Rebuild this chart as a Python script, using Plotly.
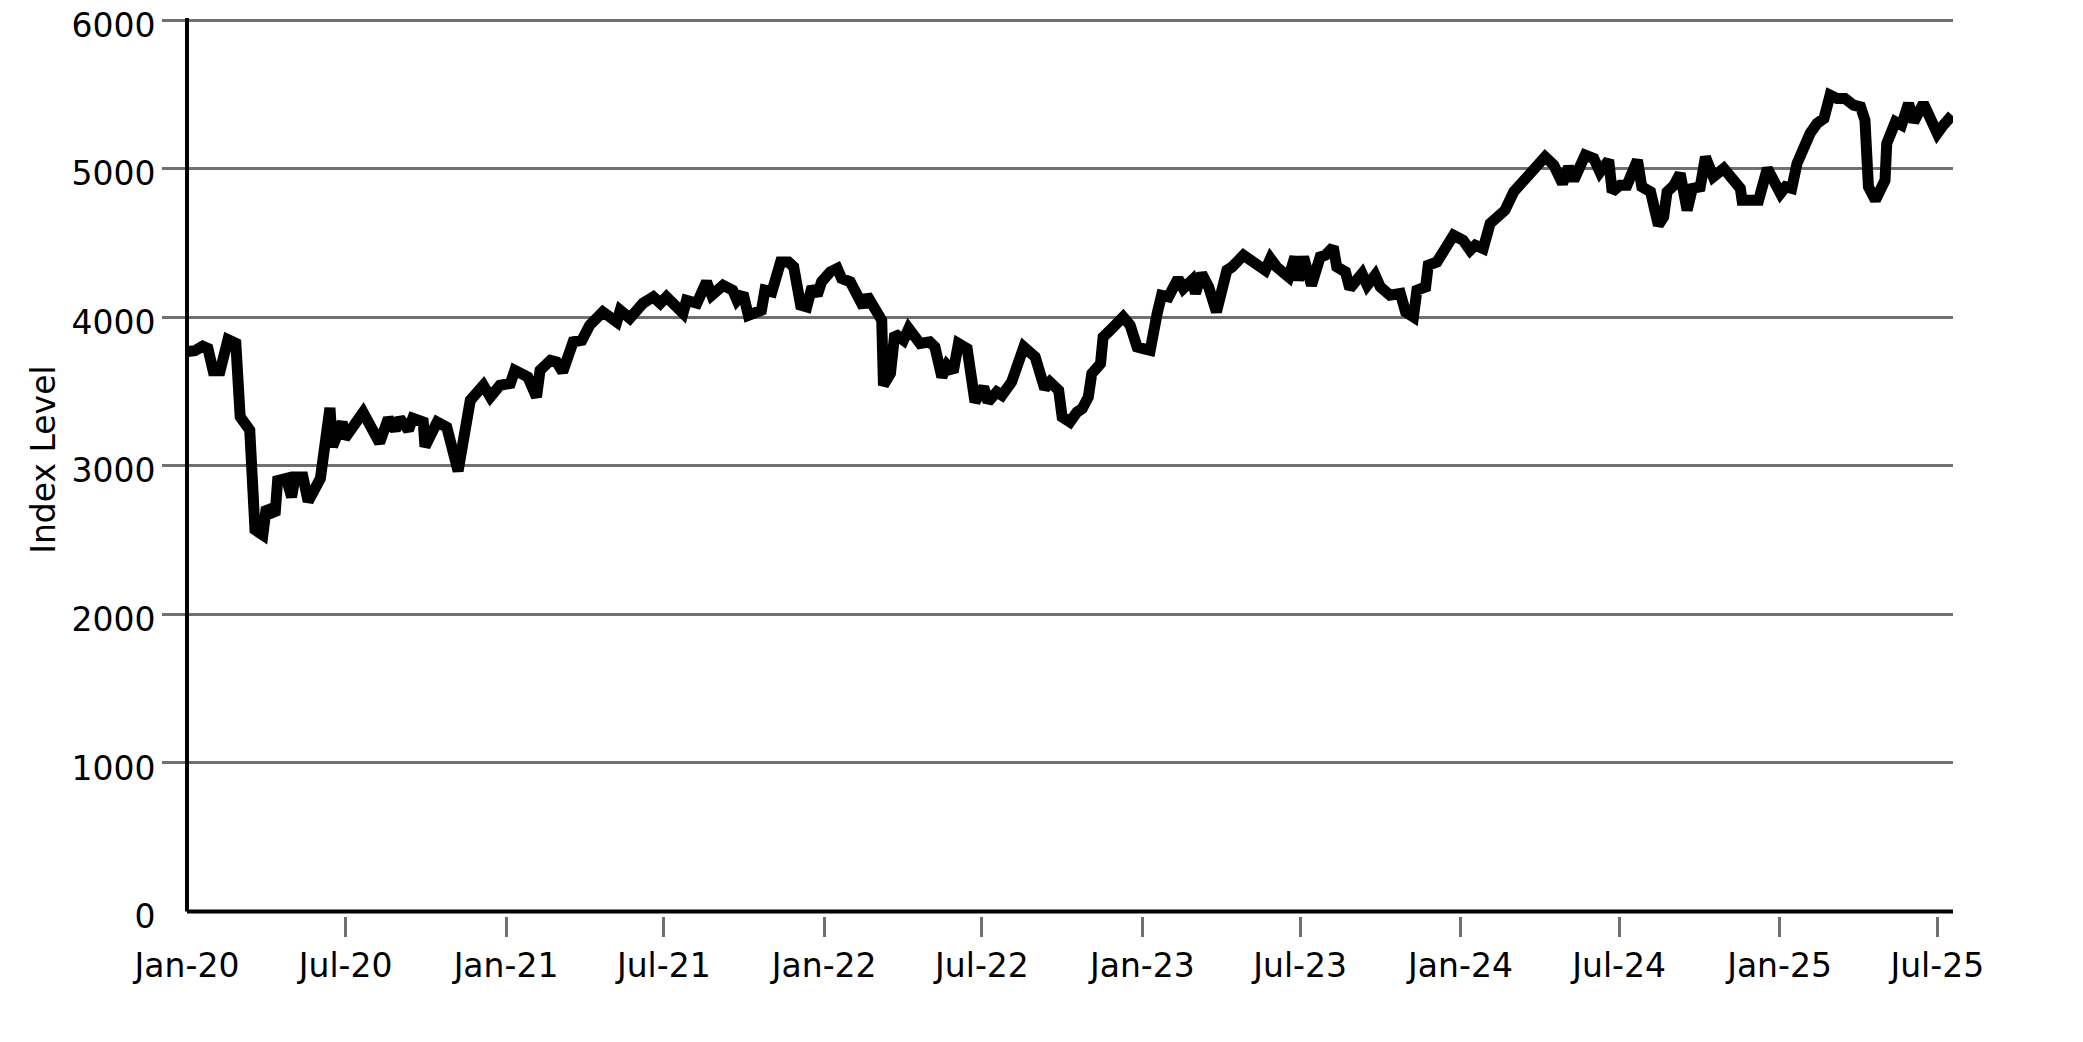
import plotly.graph_objects as go

# ---- data ----
dates = [
    "2020-01-02", "2020-01-10", "2020-01-19", "2020-01-25", "2020-01-31", "2020-02-08", "2020-02-17", "2020-02-26",
    "2020-03-02", "2020-03-13", "2020-03-19", "2020-03-28", "2020-04-01", "2020-04-11", "2020-04-14", "2020-04-24",
    "2020-04-30", "2020-05-04", "2020-05-13", "2020-05-19", "2020-06-02", "2020-06-13", "2020-06-16", "2020-06-27",
    "2020-06-30", "2020-07-21", "2020-08-09", "2020-08-19", "2020-08-27", "2020-09-01", "2020-09-11", "2020-09-16",
    "2020-09-28", "2020-09-30", "2020-10-14", "2020-10-25", "2020-11-07", "2020-11-13", "2020-11-21", "2020-12-06",
    "2020-12-14", "2020-12-25", "2021-01-06", "2021-01-11", "2021-01-26", "2021-02-05", "2021-02-09", "2021-02-21",
    "2021-02-28", "2021-03-07", "2021-03-19", "2021-03-29", "2021-04-07", "2021-04-22", "2021-05-08", "2021-05-12",
    "2021-05-23", "2021-06-07", "2021-06-19", "2021-06-27", "2021-07-04", "2021-07-23", "2021-07-27", "2021-08-08",
    "2021-08-19", "2021-08-25", "2021-09-07", "2021-09-18", "2021-09-23", "2021-09-30", "2021-10-06", "2021-10-21",
    "2021-10-25", "2021-11-02", "2021-11-12", "2021-11-21", "2021-11-27", "2021-12-05", "2021-12-12", "2021-12-18",
    "2021-12-24", "2021-12-29", "2022-01-08", "2022-01-16", "2022-01-21", "2022-01-31", "2022-02-09", "2022-02-15",
    "2022-02-19", "2022-02-28", "2022-03-08", "2022-03-10", "2022-03-18", "2022-03-23", "2022-04-02", "2022-04-08",
    "2022-04-21", "2022-05-02", "2022-05-08", "2022-05-16", "2022-05-22", "2022-05-29", "2022-06-04", "2022-06-14",
    "2022-06-23", "2022-07-03", "2022-07-08", "2022-07-18", "2022-07-24", "2022-08-04", "2022-08-10", "2022-08-18",
    "2022-08-31", "2022-09-08", "2022-09-11", "2022-09-17", "2022-09-27", "2022-10-01", "2022-10-10", "2022-10-18",
    "2022-10-24", "2022-10-31", "2022-11-04", "2022-11-14", "2022-11-17", "2022-11-25", "2022-12-10", "2022-12-18",
    "2022-12-26", "2023-01-02", "2023-01-10", "2023-01-18", "2023-01-23", "2023-01-31", "2023-02-11", "2023-02-17",
    "2023-02-27", "2023-03-03", "2023-03-10", "2023-03-18", "2023-03-27", "2023-04-08", "2023-04-14", "2023-04-27",
    "2023-05-12", "2023-05-22", "2023-05-28", "2023-06-04", "2023-06-18", "2023-06-25", "2023-06-29", "2023-07-05",
    "2023-07-14", "2023-07-24", "2023-07-30", "2023-08-08", "2023-08-12", "2023-08-22", "2023-08-27", "2023-09-10",
    "2023-09-16", "2023-09-25", "2023-10-01", "2023-10-12", "2023-10-24", "2023-10-30", "2023-11-08", "2023-11-12",
    "2023-11-22", "2023-11-25", "2023-12-05", "2023-12-16", "2023-12-24", "2024-01-04", "2024-01-12", "2024-01-18",
    "2024-01-27", "2024-02-04", "2024-02-14", "2024-02-21", "2024-03-02", "2024-03-10", "2024-03-21", "2024-03-29",
    "2024-04-07", "2024-04-17", "2024-04-27", "2024-05-04", "2024-05-10", "2024-05-23", "2024-06-02", "2024-06-09",
    "2024-06-19", "2024-06-23", "2024-07-02", "2024-07-10", "2024-07-22", "2024-07-27", "2024-08-06", "2024-08-15",
    "2024-08-21", "2024-08-25", "2024-09-02", "2024-09-09", "2024-09-17", "2024-09-23", "2024-10-02", "2024-10-08",
    "2024-10-17", "2024-10-29", "2024-11-07", "2024-11-17", "2024-11-19", "2024-11-28", "2024-12-08", "2024-12-18",
    "2024-12-25", "2025-01-02", "2025-01-08", "2025-01-15", "2025-01-21", "2025-01-29", "2025-02-05", "2025-02-13",
    "2025-02-21", "2025-02-28", "2025-03-08", "2025-03-17", "2025-03-27", "2025-04-04", "2025-04-09", "2025-04-13",
    "2025-04-21", "2025-05-02", "2025-05-04", "2025-05-14", "2025-05-21", "2025-05-29", "2025-06-04", "2025-06-15",
    "2025-06-23", "2025-07-01", "2025-07-08", "2025-07-18",
]
index_level = [
    3770, 3775, 3805, 3790, 3640, 3640, 3850, 3825,
    3330, 3240, 2570, 2535, 2720, 2670, 2900, 2915,
    2790, 2925, 2925, 2760, 2915, 3390, 3130, 3295,
    3185, 3360, 3155, 3320, 3240, 3320, 3240, 3320,
    3295, 3130, 3295, 3260, 2965, 3194, 3441, 3542,
    3463, 3542, 3555, 3643, 3598, 3463, 3643, 3710,
    3699, 3632, 3834, 3845, 3946, 4036, 3968, 4047,
    3993, 4094, 4137, 4094, 4137, 4027, 4114, 4094,
    4238, 4148, 4215, 4182, 4114, 4160, 4013, 4047,
    4182, 4171, 4372, 4372, 4339, 4081, 4069, 4204,
    4148, 4238, 4305, 4328, 4261, 4238, 4114, 4069,
    4148, 4069, 3980, 3542, 3621, 3890, 3845, 3924,
    3823, 3834, 3800, 3598, 3677, 3632, 3823, 3789,
    3430, 3531, 3430, 3497, 3475, 3564, 3688, 3800,
    3733, 3576, 3520, 3564, 3508, 3329, 3295, 3362,
    3385, 3463, 3621, 3688, 3867, 3912, 4002, 3946,
    3800, 3789, 3778, 4025, 4148, 4137, 4261, 4193,
    4249, 4160, 4294, 4204, 4036, 4316, 4339, 4417,
    4350, 4316, 4395, 4339, 4271, 4406, 4249, 4406,
    4215, 4406, 4417, 4473, 4339, 4305, 4193, 4294,
    4215, 4283, 4204, 4148, 4160, 4036, 4002, 4182,
    4204, 4350, 4372, 4496, 4552, 4518, 4451, 4485,
    4462, 4631, 4675, 4720, 4844, 4900, 4978, 5012,
    5079, 5024, 4900, 5012, 4922, 5091, 5068, 4978,
    5057, 4844, 4889, 4889, 5057, 4878, 4844, 4620,
    4675, 4844, 4889, 4967, 4720, 4867, 4878, 5079,
    4945, 5001, 4922, 4867, 4788, 4788, 4788, 5001,
    4922, 4833, 4878, 4867, 5034, 5158, 5237, 5304,
    5338, 5495, 5473, 5473, 5427, 5416, 5326, 4878,
    4788, 4922, 5169, 5315, 5293, 5439, 5315, 5439,
    5338, 5237, 5293, 5360,
]

x_tick_dates = ["2020-01-01", "2020-07-01", "2021-01-01", "2021-07-01", "2022-01-01", "2022-07-01",
                "2023-01-01", "2023-07-01", "2024-01-01", "2024-07-01", "2025-01-01", "2025-07-01"]
x_tick_labels = ["Jan-20", "Jul-20", "Jan-21", "Jul-21", "Jan-22", "Jul-22",
                 "Jan-23", "Jul-23", "Jan-24", "Jul-24", "Jan-25", "Jul-25"]
y_tick_values = [0, 1000, 2000, 3000, 4000, 5000, 6000]
y_title = "Index Level"

# ---- styling ----
FONT = "DejaVu Sans"
FS = 33
GRID = "#707070"
X_RANGE = ["2020-01-01", "2025-07-19"]
Y_RANGE = [-30, 6014]

fig = go.Figure()
fig.add_trace(go.Scatter(x=dates, y=index_level, mode="lines",
                         line=dict(color="black", width=11),
                         showlegend=False, hoverinfo="skip"))
# empty trace to carry the overlay axes (visible ticks only)
fig.add_trace(go.Scatter(x=[], y=[], xaxis="x2", yaxis="y2", showlegend=False))

fig.update_layout(
    width=2075, height=1034,
    margin=dict(l=179, r=130, t=10, b=126, autoexpand=False),
    paper_bgcolor="white", plot_bgcolor="white",
    font=dict(family=FONT, size=FS, color="black"),
    xaxis=dict(range=X_RANGE, type="date", tickmode="array",
               tickvals=x_tick_dates, ticktext=x_tick_labels,
               ticks="outside", ticklen=20, tickwidth=3, tickcolor="rgba(0,0,0,0)",
               showgrid=False, zeroline=False, showline=False, automargin=False,
               ticklabeloverflow="allow",
               tickfont=dict(family=FONT, size=FS, color="black")),
    yaxis=dict(range=Y_RANGE, tickmode="array", tickvals=y_tick_values,
               ticks="outside", ticklen=24, tickwidth=3, tickcolor="rgba(0,0,0,0)",
               showgrid=True, gridcolor=GRID, gridwidth=3,
               zeroline=False, showline=False, automargin=False,
               ticklabeloverflow="allow", ticklabelshift=5,
               tickfont=dict(family=FONT, size=FS, color="black")),
    xaxis2=dict(range=X_RANGE, type="date", overlaying="x", anchor="y2",
                tickmode="array", tickvals=x_tick_dates[1:],
                ticks="outside", ticklen=20, tickwidth=3, tickcolor=GRID,
                showticklabels=False, showgrid=False, zeroline=False, showline=False,
                automargin=False),
    yaxis2=dict(range=Y_RANGE, overlaying="y", anchor="x2",
                tickmode="array", tickvals=y_tick_values[1:],
                ticks="outside", ticklen=24, tickwidth=3, tickcolor=GRID,
                showticklabels=False, showgrid=False, zeroline=False, showline=False,
                automargin=False),
    shapes=[
        dict(type="line", xref="paper", yref="y", x0=0, x1=1, y0=0, y1=0,
             line=dict(color="black", width=4), layer="above"),
        dict(type="line", xref="paper", yref="y", x0=0, x1=0, y0=0, y1=6020,
             line=dict(color="black", width=4), layer="above"),
    ],
    annotations=[
        dict(text=y_title, xref="paper", yref="y", x=-0.081, y=3040,
             xanchor="center", yanchor="middle", textangle=-90, showarrow=False,
             font=dict(family=FONT, size=FS, color="black")),
    ],
)

fig.write_html("out.html")
